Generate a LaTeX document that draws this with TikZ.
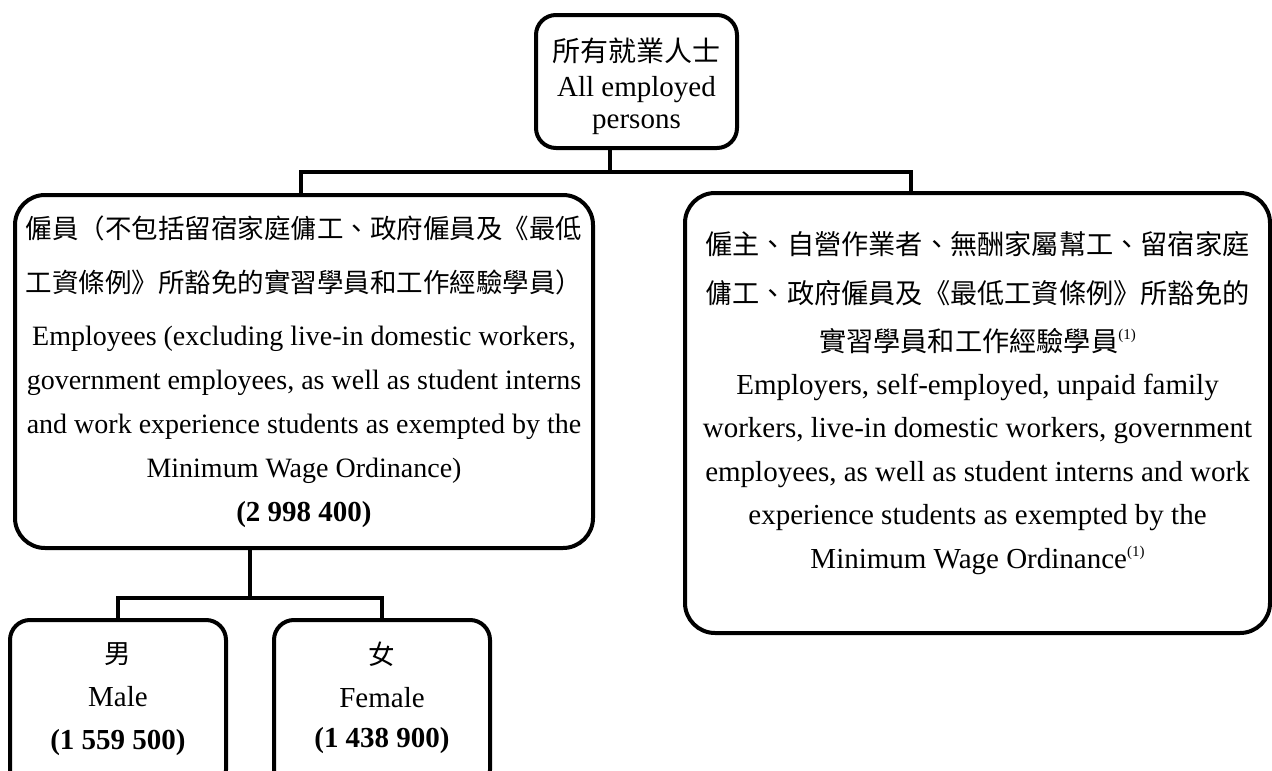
\documentclass[tikz,border=0pt]{standalone}
\usepackage{fontspec}
\setmainfont{Liberation Serif}
\newfontfamily\cjk{Noto Sans CJK TC}
\usetikzlibrary{positioning}
\newcommand{\zh}[2][26.5]{{\cjk\fontsize{#1}{30}\selectfont #2}}
\newcommand{\fnmark}{\raisebox{12pt}{\fontsize{15}{15}\selectfont(1)}}

\begin{document}
\begin{tikzpicture}[x=1pt,y=-1pt,
  box/.style={draw,line width=4pt,rounded corners=#1,inner sep=0pt},
  box/.default=20pt,
  txt/.style={align=center,inner sep=0pt,font=\fontsize{29}{44}\selectfont},
  link/.style={line width=4pt}]
  \useasboundingbox (0,0) rectangle (1272,771);

  % the boxes
  \node[box,minimum width=201pt,minimum height=133pt] (all) at (636.5,81.5) {};
  \node[box=30pt,minimum width=578pt,minimum height=353pt] (emp) at (304,371.5) {};
  \node[box=30pt,minimum width=585pt,minimum height=440pt] (oth) at (977.5,413) {};
  \node[box,minimum width=216pt,minimum height=170pt] (male) at (118,705) {};
  \node[box,minimum width=216pt,minimum height=170pt] (female) at (382,705) {};

  % the texts
  \node[txt,font=\fontsize{29}{34}\selectfont,below=25pt of all.north] (all-t)
    {\zh[28]{所有就業人士}\\[1pt]All employed\\[-2pt]persons};
  \node[txt,below=23pt of emp.north] (emp-t) {%
    \zh{僱員（不包括留宿家庭傭工、政府僱員及《最低}\\[10pt]
    \zh{工資條例》所豁免的實習學員和工作經驗學員）}\\[9pt]
    {\fontsize{28}{44}\selectfont Employees (excluding live-in domestic workers,}\\
    {\fontsize{28}{44}\selectfont government employees, as well as student interns}\\
    {\fontsize{28}{44}\selectfont and work experience students as exempted by the}\\
    {\fontsize{28}{44}\selectfont Minimum Wage Ordinance)}\\
    \textbf{(2 998 400)}};
  \node[txt,below=40pt of oth.north] (oth-t) {%
    \zh[27.2]{僱主、自營作業者、無酬家屬幫工、留宿家庭}\\[5pt]
    \zh[27.2]{傭工、政府僱員及《最低工資條例》所豁免的}\\[4pt]
    \zh[27.2]{實習學員和工作經驗學員}\fnmark\\[-1pt]
    Employers, self-employed, unpaid family\\[-0.5pt]
    workers, live-in domestic workers, government\\[-0.5pt]
    employees, as well as student interns and work\\[-0.5pt]
    experience students as exempted by the\\[-0.5pt]
    Minimum Wage Ordinance\fnmark};
  \node[txt,below=24pt of male.north] (male-t) {\zh{男}\\[-1pt]Male\\[-1pt]\textbf{(1 559 500)}};
  \node[txt,below=24pt of female.north] (female-t) {\zh{女}\\[-1pt]Female\\[-4pt]\textbf{(1 438 900)}};

  % the connectors
  \coordinate (bus) at (610,172);
  \coordinate (busL) at (301,172);
  \coordinate (busR) at (911,172);
  \draw[link] (all.south -| bus) -- (bus);
  \draw[link] (emp.north -| busL) -- (busL) -- (busR) -- (oth.north -| busR);

  \coordinate (sub) at (250,598);
  \coordinate (subL) at (118,598);
  \coordinate (subR) at (382,598);
  \draw[link] (emp.south -| sub) -- (sub);
  \draw[link] (male.north -| subL) -- (subL) -- (subR) -- (female.north -| subR);
\end{tikzpicture}
\end{document}
